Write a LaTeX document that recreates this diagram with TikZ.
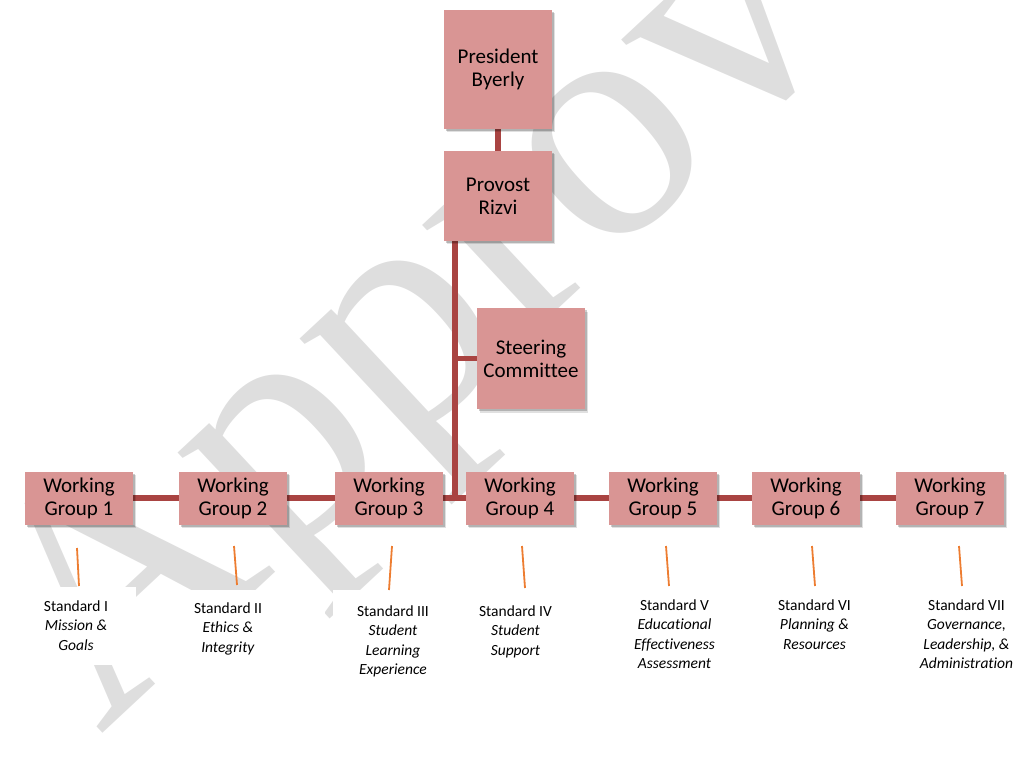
\documentclass[tikz,border=0pt]{standalone}
\usepackage{fontspec}
\setmainfont{Carlito}[Ligatures=NoCommon]
\newfontfamily\wmfont{Liberation Serif}
\usetikzlibrary{shadows}
\definecolor{boxfill}{HTML}{D99594}
\definecolor{linkred}{HTML}{A94442}
\definecolor{stdorange}{HTML}{ED7D31}
\definecolor{wmgray}{HTML}{DEDEDE}
\pgfdeclarelayer{background}
\pgfsetlayers{background,main}
\begin{document}
\begin{tikzpicture}[x=1pt,y=-1pt,
  orgbox/.style={fill=boxfill, draw=none, minimum width=108pt, align=center, inner sep=0pt,
    font=\fontsize{21}{23}\selectfont,
    drop shadow={shadow xshift=3pt, shadow yshift=-3.5pt, opacity=0.12, fill=black},
    drop shadow={shadow xshift=1.5pt, shadow yshift=-2pt, opacity=0.2, fill=black}},
  link/.style={draw=linkred, line width=5.5pt},
  stdline/.style={draw=stdorange, line width=1.8pt},
  stdtext/.style={align=center, inner sep=0pt, anchor=north, font=\fontsize{15.5}{19.3}\selectfont}]
\useasboundingbox (0,0) rectangle (1016,783);

% boxes
\node[orgbox, minimum height=119pt] (President) at (498,69.5) {President\\Byerly};
\node[orgbox, minimum height=90pt] (Provost) at (498,196) {Provost\\Rizvi};
\node[orgbox, minimum height=101pt] (Steering) at (531,358.5) {Steering\\Committee};
\node[orgbox, minimum height=53pt] (WG1) at (79,498) {Working\\Group 1};
\node[orgbox, minimum height=53pt] (WG2) at (233,498) {Working\\Group 2};
\node[orgbox, minimum height=53pt] (WG3) at (389,498) {Working\\Group 3};
\node[orgbox, minimum height=53pt] (WG4) at (520,498) {Working\\Group 4};
\node[orgbox, minimum height=53pt] (WG5) at (663,498) {Working\\Group 5};
\node[orgbox, minimum height=53pt] (WG6) at (806,498) {Working\\Group 6};
\node[orgbox, minimum height=53pt] (WG7) at (950,498) {Working\\Group 7};

% watermark and connectors behind the boxes
\coordinate (spine) at (455,498);
\begin{pgfonlayer}{background}
\node[anchor=base west, rotate=43, inner sep=0pt, text=wmgray,
  font=\wmfont\fontsize{335}{335}\selectfont] (wm) at (100,736) {Approv};
\fill[white] (0,587) rectangle (136,665);
\fill[white] (167,590) rectangle (325,670);
\fill[white] (333,590) rectangle (450,680);
\draw[link] (President) -- (Provost);
\draw[link] (spine |- Provost.south) -- (spine);
\draw[link] (spine |- Steering.west) -- (Steering.west);
\draw[link] (WG1.east) -- (WG7.west);
\end{pgfonlayer}

% standards
\node[stdtext] (S1) at (76,600.5) {Standard I\\\textit{Mission \&}\\\textit{Goals}};
\node[stdtext] (S2) at (228,602.5) {Standard II\\\textit{Ethics \&}\\\textit{Integrity}};
\node[stdtext] (S3) at (393,605.5) {Standard III\\\textit{Student}\\\textit{Learning}\\\textit{Experience}};
\node[stdtext] (S4) at (515.5,605.5) {Standard IV\\\textit{Student}\\\textit{Support}};
\node[stdtext] (S5) at (674.5,599.5) {Standard V\\\textit{Educational}\\\textit{Effectiveness}\\\textit{Assessment}};
\node[stdtext] (S6) at (814.5,599.5) {Standard VI\\\textit{Planning \&}\\\textit{Resources}};
\node[stdtext] (S7) at (966.5,599.5) {Standard VII\\\textit{Governance,}\\\textit{Leadership, \&}\\\textit{Administration}};

% orange ticks
\coordinate (o1a) at (77,548);  \coordinate (o1b) at (79,586);
\coordinate (o2a) at (234,546); \coordinate (o2b) at (237,585);
\coordinate (o3a) at (392,546); \coordinate (o3b) at (389,590);
\coordinate (o4a) at (522,546); \coordinate (o4b) at (525,588);
\coordinate (o5a) at (666,546); \coordinate (o5b) at (669,586);
\coordinate (o6a) at (812,546); \coordinate (o6b) at (815,586);
\coordinate (o7a) at (959,546); \coordinate (o7b) at (962,586);
\foreach \i in {1,...,7} {\draw[stdline] (o\i a) -- (o\i b);}
\end{tikzpicture}
\end{document}
